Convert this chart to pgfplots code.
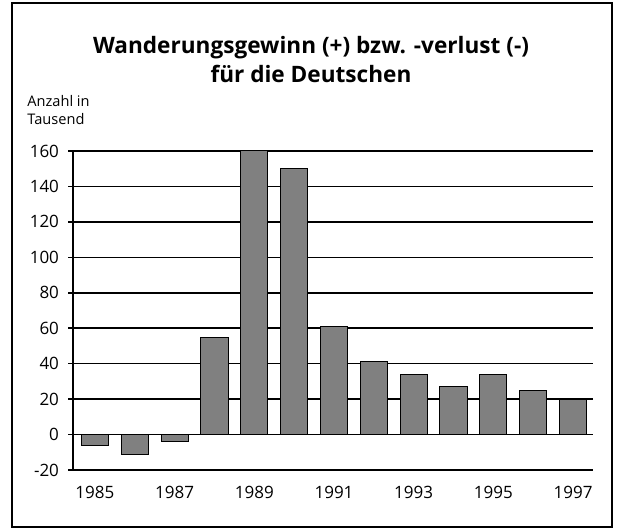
\documentclass[border=0pt]{standalone}
\usepackage{fontspec}
\setmainfont{Open Sans}
\usepackage{pgfplots}
\pgfplotsset{compat=1.18}
\begin{document}
\begin{tikzpicture}
\path (0,0) rectangle (311pt,265pt);
\draw[line width=1.2pt] (6pt,1.5pt) rectangle (306pt,263.5pt);
\node[font=\fontsize{11.3}{14}\selectfont\bfseries, anchor=base, inner sep=0pt] at (155.5pt,238pt) {Wanderungsgewinn (+) bzw. -verlust (-)};
\node[font=\fontsize{11.3}{14}\selectfont\bfseries, anchor=base, inner sep=0pt] at (155.5pt,223.5pt) {für die Deutschen};
\node[font=\fontsize{7.3}{9}\selectfont, anchor=base west, inner sep=0pt] at (13.5pt,211.5pt) {Anzahl in};
\node[font=\fontsize{7.3}{9}\selectfont, anchor=base west, inner sep=0pt] at (13.5pt,202.5pt) {Tausend};
\begin{axis}[
  at={(36.5pt,30pt)}, anchor=south west,
  scale only axis, width=260pt, height=159.5pt,
  xmin=1984.45, xmax=1997.5,
  ymin=-20, ymax=160,
  axis y line*=left, axis x line*=bottom,
  axis line style={line width=0.8pt},
  xtick={1985,1987,...,1997},
  ytick={-20,0,...,160},
  xticklabel style={/pgf/number format/1000 sep={}},
  xtick style={draw=none},
  ytick style={black, line width=0.8pt},
  tick align=outside,
  major tick length=2.5pt,
  ymajorgrids, grid style={black, line width=0.8pt},
  tick label style={font=\fontsize{8.5}{10}\selectfont},
  /pgf/number format/assume math mode=true,
  xticklabel style={yshift=-2pt},
  yticklabel style={xshift=-1pt},
  clip=true,
]
\addplot[ybar, bar width=0.68, fill=black!50, draw=black, line width=0.5pt] coordinates {
(1985,-6) (1986,-11) (1987,-4) (1988,55) (1989,160) (1990,150) (1991,61)
(1992,41) (1993,34) (1994,27) (1995,34) (1996,25) (1997,20)
};
\end{axis}
\end{tikzpicture}
\end{document}
